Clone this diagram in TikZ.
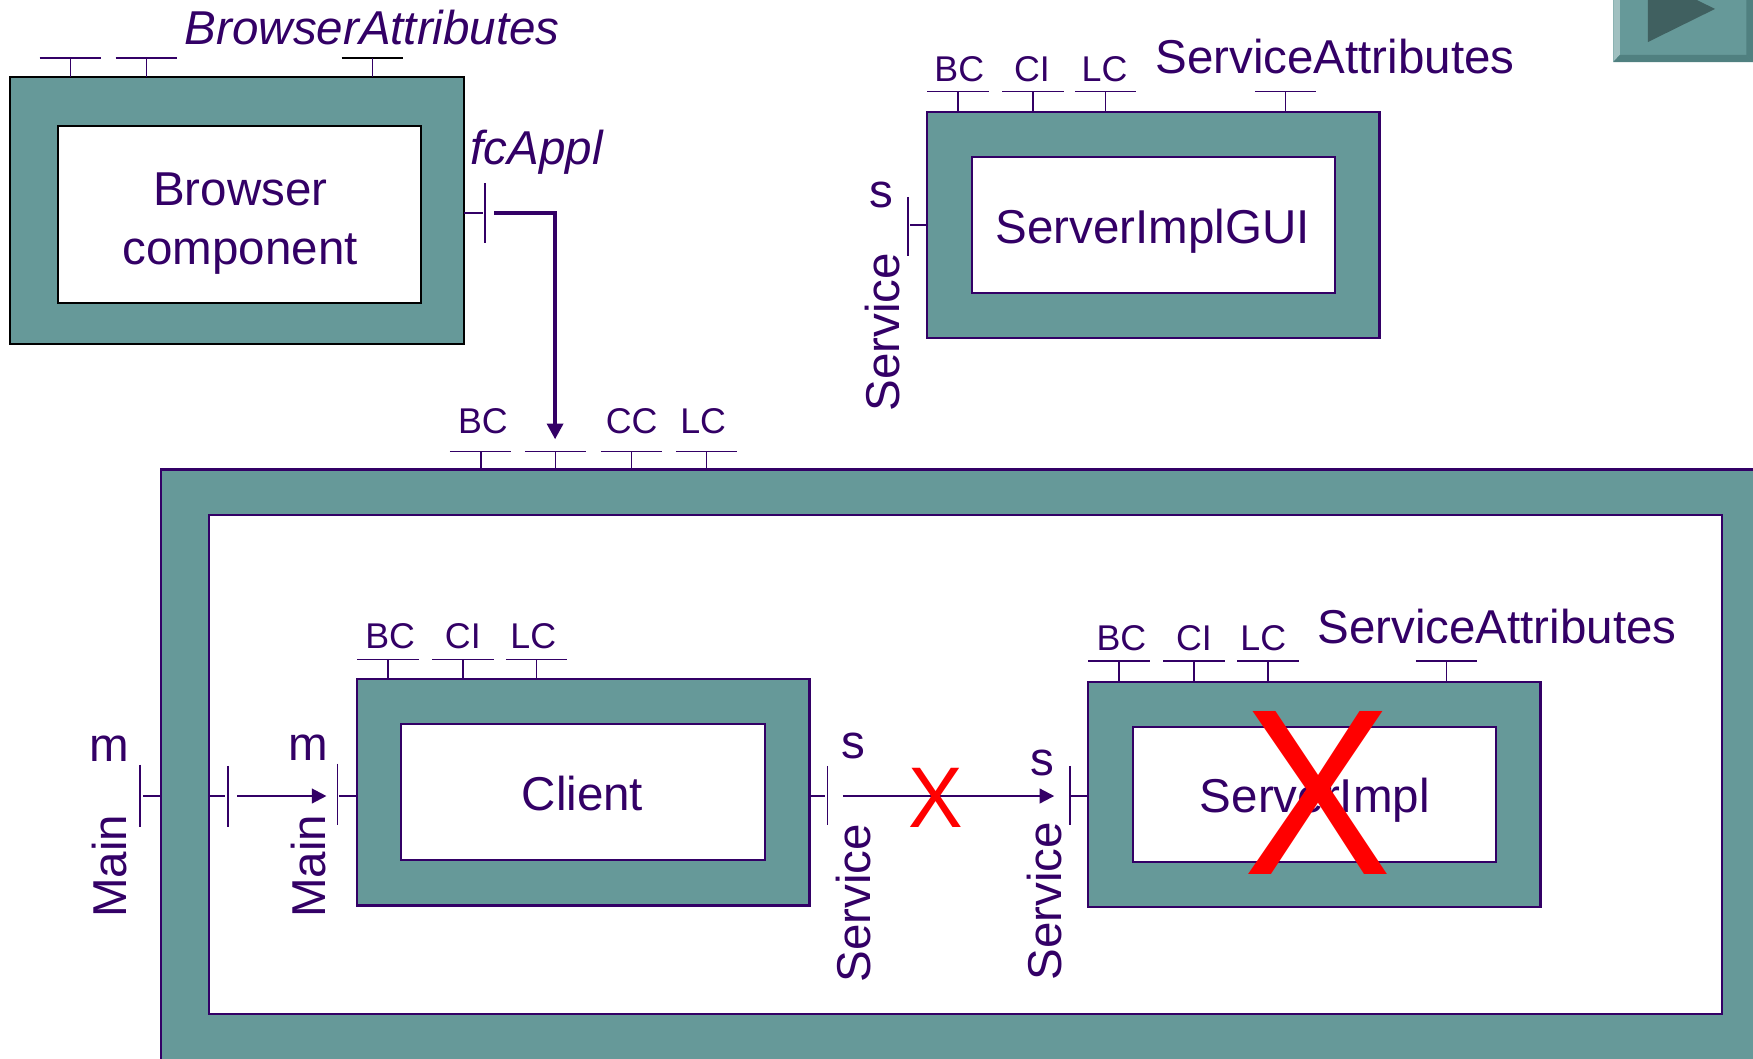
\documentclass[tikz,border=0pt]{standalone}
\usepackage{fontspec}
\setmainfont{Liberation Sans}
\usepackage{graphicx}
\usetikzlibrary{arrows.meta}
\definecolor{tealc}{RGB}{102,153,153}
\definecolor{purp}{RGB}{51,0,102}
\definecolor{btndark}{RGB}{64,96,96}
\definecolor{btnlight}{RGB}{160,192,192}
\definecolor{btnshade}{RGB}{80,128,128}
\newcommand\topport[4][purp]{\draw[port,draw=#1] (#2-27.5,#3) -- (#2+27.5,#3); \draw[port] (#2,#3) -- (#2,#4);}
\begin{document}
\begin{tikzpicture}[x=1pt,y=-1pt,
  frame/.style={draw=purp,line width=2pt,fill=tealc,inner sep=0,outer sep=0,anchor=north west},
  inbox/.style={draw=purp,line width=1.8pt,fill=white,inner sep=0,outer sep=0,anchor=north west},
  port/.style={draw=purp,line width=1.4pt},
  lbl/.style={text=purp,inner sep=0,font=\fontsize{42.5}{52}\selectfont,text depth=0pt},
  ilbl/.style={text=purp,inner sep=0,font=\fontsize{42.5}{52}\selectfont\itshape,text depth=0pt},
  sml/.style={text=purp,inner sep=0,font=\fontsize{32}{38}\selectfont,text depth=0pt},
  conn/.style={draw=purp,line width=2pt,-{Triangle[length=13pt,width=13pt]}},
  fconn/.style={draw=purp,line width=3.5pt,-{Triangle[length=14pt,width=14pt]}},
  cross/.style={text=red,inner sep=0,text depth=0pt},
]
\useasboundingbox (0,0) rectangle (1568,947);
\clip (0,0) rectangle (1568,947);
\fill[white] (0,0) rectangle (1568,947);

% ---------- Browser component ----------
\node[frame,draw=black,minimum width=406,minimum height=239] (bframe) at (9,69) {};
\node[inbox,draw=black,minimum width=325,minimum height=158] (binner) at (52,113) {};
\node[text=purp,inner sep=0,align=center,font=\fontsize{42.5}{52}\selectfont] (btxt) at (215,200) {Browser\\component};
\topport{63}{52}{69}
\topport{131}{52}{69}
\topport[black]{333}{52}{69}
\node[ilbl] (battr) at (333,24) {BrowserAttributes};
\node[ilbl] (fcappl) at (480,132) {fcAppl};
\draw[port] (415,190.5) -- (432,190.5) (434,164) -- (434,217);
\coordinate (fcstart) at (442,190.5);
\coordinate (fctip) at (496.5,393);

% ---------- big composite ----------
\node[frame,minimum width=1500,minimum height=600] (outer) at (144,420) {};
\node[inbox,minimum width=1353,minimum height=446] (outerin) at (187,461) {};
\topport{430}{404}{420}
\topport{497}{404}{420}
\topport{565}{404}{420}
\topport{632}{404}{420}
\node[sml] (obc) at (432,377) {BC};
\node[sml] (occ) at (565,377) {CC};
\node[sml] (olc) at (629,377) {LC};
\draw[fconn] (fcstart) -| (fctip);

% Main port of the composite
\draw[port] (125,684) -- (125,740) (128,712) -- (144,712);
\draw[port] (187,712) -- (201,712) (204,685) -- (204,740);
\node[lbl] (mo) at (98,670) {m};
\node[lbl,rotate=90] (maino) at (98,775) {Main};

% ---------- ServerImplGUI ----------
\node[frame,minimum width=405,minimum height=202] (gframe) at (829,100) {};
\node[inbox,minimum width=325,minimum height=122] (ginner) at (869,140) {};
\node[lbl] (gtxt) at (1031,202) {ServerImplGUI};
\topport{857}{82}{100}
\topport{924}{82}{100}
\topport{989}{82}{100}
\topport{1150}{82}{100}
\node[sml] (gbc) at (858,62) {BC};
\node[sml] (gci) at (923,62) {CI};
\node[sml] (glc) at (988,62) {LC};
\node[lbl] (gattr) at (1194,50) {ServiceAttributes};
\draw[port] (814,201.5) -- (829,201.5) (812,176) -- (812,229);
\node[lbl] (gs) at (788,174) {s};
\node[lbl,rotate=90] (gserv) at (789,297) {Service};

% ---------- Client ----------
\node[frame,minimum width=405,minimum height=203] (cframe) at (319,607) {};
\node[inbox,minimum width=325,minimum height=121] (cinner) at (359,648) {};
\node[lbl] (ctxt) at (521,710) {Client};
\topport{347}{590}{607}
\topport{414}{590}{607}
\topport{480}{590}{607}
\node[sml] (cbc) at (349,569) {BC};
\node[sml] (cci) at (414,569) {CI};
\node[sml] (clc) at (477,569) {LC};
\draw[port] (302,683) -- (302,738) (303,712) -- (319,712);
\node[lbl] (mi) at (276,669) {m};
\node[lbl,rotate=90] (maini) at (276,775) {Main};
\draw[port] (724,712) -- (738,712) (740,685) -- (740,738);
\node[lbl] (cs) at (763,667) {s};
\node[lbl,rotate=90] (cserv) at (763,808) {Service};

% ---------- ServerImpl ----------
\node[frame,minimum width=405,minimum height=201] (sframe) at (973,610) {};
\node[inbox,minimum width=325,minimum height=121] (sinner) at (1013,650) {};
\node[lbl] (stxt) at (1176,711) {ServerImpl};
\topport{1001}{591}{610}
\topport{1068}{591}{610}
\topport{1134}{591}{610}
\topport{1294}{591}{610}
\node[sml] (sbc) at (1003,571) {BC};
\node[sml] (sci) at (1068,571) {CI};
\node[sml] (slc) at (1130,571) {LC};
\node[lbl] (sattr) at (1339,560) {ServiceAttributes};
\draw[port] (957,685) -- (957,738) (958,712) -- (973,712);
\node[lbl] (ss) at (932,682) {s};
\node[lbl,rotate=90] (sserv) at (934,806) {Service};

% ---------- connectors ----------
\coordinate (mainfrom) at (212,712);
\coordinate (mainto) at (292,712);
\draw[conn] (mainfrom) -- (mainto);
\coordinate (servfrom) at (754,712);
\coordinate (servto) at (943,712);
\draw[conn] (servfrom) -- (servto);

% ---------- red crosses ----------
\node[cross,font=\fontsize{77}{80}\selectfont] (xsmall) at (837,714) {\scalebox{0.95}[1]{X}};
\node[cross,font=\fontsize{212}{220}\selectfont] (xbig) at (1179,709) {\scalebox{0.94}[1]{X}};

% ---------- navigation button ----------
\fill[tealc] (1443,0) rectangle (1568,55.5);
\fill[btnlight] (1443,0) -- (1449,0) -- (1449,49) -- (1443,55.5) -- cycle;
\fill[btnshade] (1443,55.5) -- (1449,49) -- (1562,49) -- (1568,55.5) -- cycle;
\fill[btnshade] (1562,0) -- (1568,0) -- (1568,55.5) -- (1562,49) -- cycle;
\fill[btndark] (1474,-21.5) -- (1474,37.6) -- (1534,8) -- cycle;
\end{tikzpicture}
\end{document}
